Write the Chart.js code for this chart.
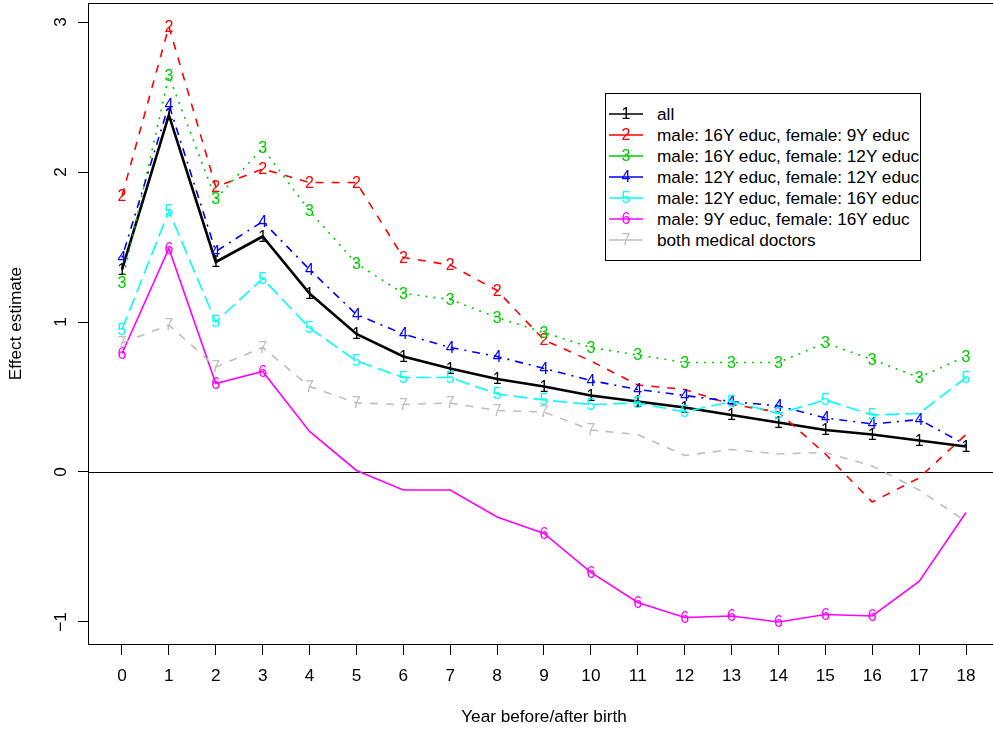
<!DOCTYPE html>
<html>
<head>
<meta charset="utf-8">
<script src="https://cdn.jsdelivr.net/npm/chart.js@4.4.0/dist/chart.umd.min.js"></script>
<style>
  html, body { margin: 0; padding: 0; background: #fff; overflow: hidden; }
  #wrap { position: relative; width: 1000px; height: 731px; }
  #legend { position: absolute; left: 605px; top: 93px; width: 314px; height: 166px; border: 1px solid #000; background: #fff;
            font: 17.2px "Liberation Sans", Arial, sans-serif; color: #000; }
  .row { position: absolute; left: 0; width: 330px; height: 20px; line-height: 20px; white-space: nowrap; }
  .row canvas { position: absolute; left: 3px; top: 0; }
  .row span { position: absolute; left: 51px; top: 0; }
</style>
</head>
<body>
<div id="wrap">
  <canvas id="effects"></canvas>
  <div id="legend"></div>
</div>
<script>
// years relative to birth
const years = [0, 1, 2, 3, 4, 5, 6, 7, 8, 9, 10, 11, 12, 13, 14, 15, 16, 17, 18];
const yTicks = [-1, 0, 1, 2, 3];

const seriesNames = [
  "all",
  "male: 16Y educ, female: 9Y educ",
  "male: 16Y educ, female: 12Y educ",
  "male: 12Y educ, female: 12Y educ",
  "male: 12Y educ, female: 16Y educ",
  "male: 9Y educ, female: 16Y educ",
  "both medical doctors"
];

const allCouples = [1.35, 2.38, 1.40, 1.57, 1.19, 0.92, 0.77, 0.69, 0.62, 0.57, 0.51, 0.47, 0.43, 0.38, 0.33, 0.28, 0.25, 0.21, 0.17];
const m16f9   = [1.84, 2.97, 1.90, 2.02, 1.93, 1.93, 1.43, 1.38, 1.21, 0.88, 0.74, 0.58, 0.55, 0.45, 0.40, 0.12, -0.20, -0.04, 0.25];
const m16f12  = [1.26, 2.64, 1.82, 2.16, 1.74, 1.39, 1.19, 1.15, 1.03, 0.93, 0.83, 0.78, 0.73, 0.73, 0.73, 0.86, 0.75, 0.63, 0.77];
const m12f12  = [1.43, 2.45, 1.47, 1.67, 1.35, 1.05, 0.92, 0.83, 0.77, 0.69, 0.61, 0.55, 0.51, 0.47, 0.44, 0.36, 0.32, 0.35, 0.18];
const m12f16  = [0.95, 1.74, 1.00, 1.29, 0.96, 0.74, 0.63, 0.63, 0.52, 0.48, 0.45, 0.46, 0.40, 0.47, 0.39, 0.48, 0.38, 0.39, 0.63];
const m9f16   = [0.79, 1.49, 0.59, 0.67, 0.27, 0.01, -0.12, -0.12, -0.30, -0.41, -0.67, -0.87, -0.97, -0.96, -1.00, -0.95, -0.96, -0.73, -0.27];
const doctors = [0.86, 0.98, 0.70, 0.83, 0.57, 0.46, 0.45, 0.46, 0.41, 0.40, 0.28, 0.25, 0.11, 0.15, 0.12, 0.13, 0.04, -0.12, -0.33];

// years where the series number is printed on the line
const markedYears = [
  [0, 1, 2, 3, 4, 5, 6, 7, 8, 9, 10, 11, 12, 13, 14, 15, 16, 17, 18],
  [0, 1, 2, 3, 4, 5, 6, 7, 8, 9],
  [0, 1, 2, 3, 4, 5, 6, 7, 8, 9, 10, 11, 12, 13, 14, 15, 16, 17, 18],
  [0, 1, 2, 3, 4, 5, 6, 7, 8, 9, 10, 11, 12, 13, 14, 15, 16, 17],
  [0, 1, 2, 3, 4, 5, 6, 7, 8, 9, 10, 11, 12, 13, 14, 15, 16, 18],
  [0, 1, 2, 3, 9, 10, 11, 12, 13, 14, 15, 16],
  [0, 1, 2, 3, 4, 5, 6, 7, 8, 9, 10]
];

const seriesValues = [allCouples, m16f9, m16f12, m12f12, m12f16, m9f16, doctors];
const colors = ["#000000", "#FF0000", "#00CD00", "#0000FF", "#00FFFF", "#FF00FF", "#BEBEBE"];
const dashes = [[], [8, 8], [2, 6], [2, 6, 8, 6], [14, 6], [], [8, 8]];
const FONT = '"Liberation Sans", Arial, Helvetica, sans-serif';
const TEXT_SIZE = 17.2;

const datasets = seriesValues.map((vals, s) => ({
  label: seriesNames[s],
  data: years.map((x, i) => ({ x: x, y: vals[i] })),
  borderColor: colors[s],
  borderWidth: s === 0 ? 2.6 : 1.6,
  borderDash: dashes[s],
  pointRadius: 0,
  tension: 0,
  fill: false,
  order: 6 - s,
  digit: String(s + 1),
  marked: markedYears[s]
}));

// draws the series number at each marked point, right after its line
const digitMarkers = {
  id: "digitMarkers",
  afterDatasetDraw(chart, args) {
    const ds = chart.data.datasets[args.index];
    const ctx = chart.ctx;
    ctx.save();
    ctx.font = "16px " + FONT;
    ctx.fillStyle = ds.borderColor;
    ctx.textAlign = "center";
    ctx.textBaseline = "middle";
    args.meta.data.forEach((pt, i) => {
      if (ds.marked.includes(years[i])) ctx.fillText(ds.digit, pt.x, pt.y + 1);
    });
    ctx.restore();
  }
};

// zero line and the plot frame
const frame = {
  id: "frame",
  beforeDatasetsDraw(chart) {
    const { ctx, chartArea: a, scales } = chart;
    const y0 = Math.round(scales.y.getPixelForValue(0)) + 0.5;
    ctx.save();
    ctx.strokeStyle = "#000";
    ctx.lineWidth = 1;
    ctx.beginPath();
    ctx.moveTo(a.left, y0);
    ctx.lineTo(a.right, y0);
    ctx.stroke();
    ctx.strokeRect(Math.round(a.left) + 0.5, Math.round(a.top) + 0.5, a.right - a.left, a.bottom - a.top);
    ctx.restore();
  }
};

new Chart(document.getElementById("effects"), {
  type: "line",
  data: { datasets: datasets },
  options: {
    responsive: true,
    maintainAspectRatio: false,
    animation: false,
    layout: { padding: { top: 3, right: 0, left: 0, bottom: 0 } },
    plugins: { legend: { display: false }, tooltip: { enabled: false } },
    scales: {
      x: {
        type: "linear",
        min: -0.725,
        max: 18.725,
        afterBuildTicks: (axis) => { axis.ticks = years.map(v => ({ value: v })); },
        afterFit: (axis) => { axis.height = 87; axis.paddingLeft = 0; axis.paddingRight = 0; },
        grid: { drawOnChartArea: false, drawTicks: true, tickLength: 11, color: "#000" },
        border: { display: true, color: "#000", width: 1 },
        ticks: { autoSkip: false, maxRotation: 0, padding: 11, color: "#000", font: { family: FONT, size: TEXT_SIZE } },
        title: { display: true, text: "Year before/after birth", color: "#000", font: { family: FONT, size: TEXT_SIZE }, padding: { top: 0, bottom: 3 } }
      },
      y: {
        min: -1.147,
        max: 3.127,
        afterBuildTicks: (axis) => { axis.ticks = yTicks.map(v => ({ value: v })); },
        afterFit: (axis) => { axis.width = 88; axis.paddingTop = 0; axis.paddingBottom = 0; },
        grid: { drawOnChartArea: false, drawTicks: true, tickLength: 10, color: "#000" },
        border: { display: true, color: "#000", width: 1 },
        ticks: {
          autoSkip: false, minRotation: 90, maxRotation: 90, crossAlign: "center", padding: 7,
          color: "#000", font: { family: FONT, size: TEXT_SIZE },
          callback: (v) => v < 0 ? "\u2212" + Math.abs(v) : String(v)
        },
        title: { display: true, text: "Effect estimate", color: "#000", font: { family: FONT, size: TEXT_SIZE }, padding: { top: 6, bottom: 0 } }
      }
    }
  },
  plugins: [frame, digitMarkers]
});

// legend box in the R style: solid sample line with the number on it
const legend = document.getElementById("legend");
seriesNames.forEach((name, s) => {
  const row = document.createElement("div");
  row.className = "row";
  row.style.top = (10 + 21 * s) + "px";
  const c = document.createElement("canvas");
  c.width = 34; c.height = 20;
  const g = c.getContext("2d");
  g.strokeStyle = colors[s];
  g.lineWidth = 1.6;
  g.beginPath(); g.moveTo(0, 10); g.lineTo(34, 10); g.stroke();
  g.fillStyle = colors[s];
  g.font = "16px " + FONT;
  g.textAlign = "center";
  g.textBaseline = "middle";
  g.fillText(String(s + 1), 17, 11);
  const t = document.createElement("span");
  t.textContent = name;
  row.appendChild(c);
  row.appendChild(t);
  legend.appendChild(row);
});
</script>
</body>
</html>
